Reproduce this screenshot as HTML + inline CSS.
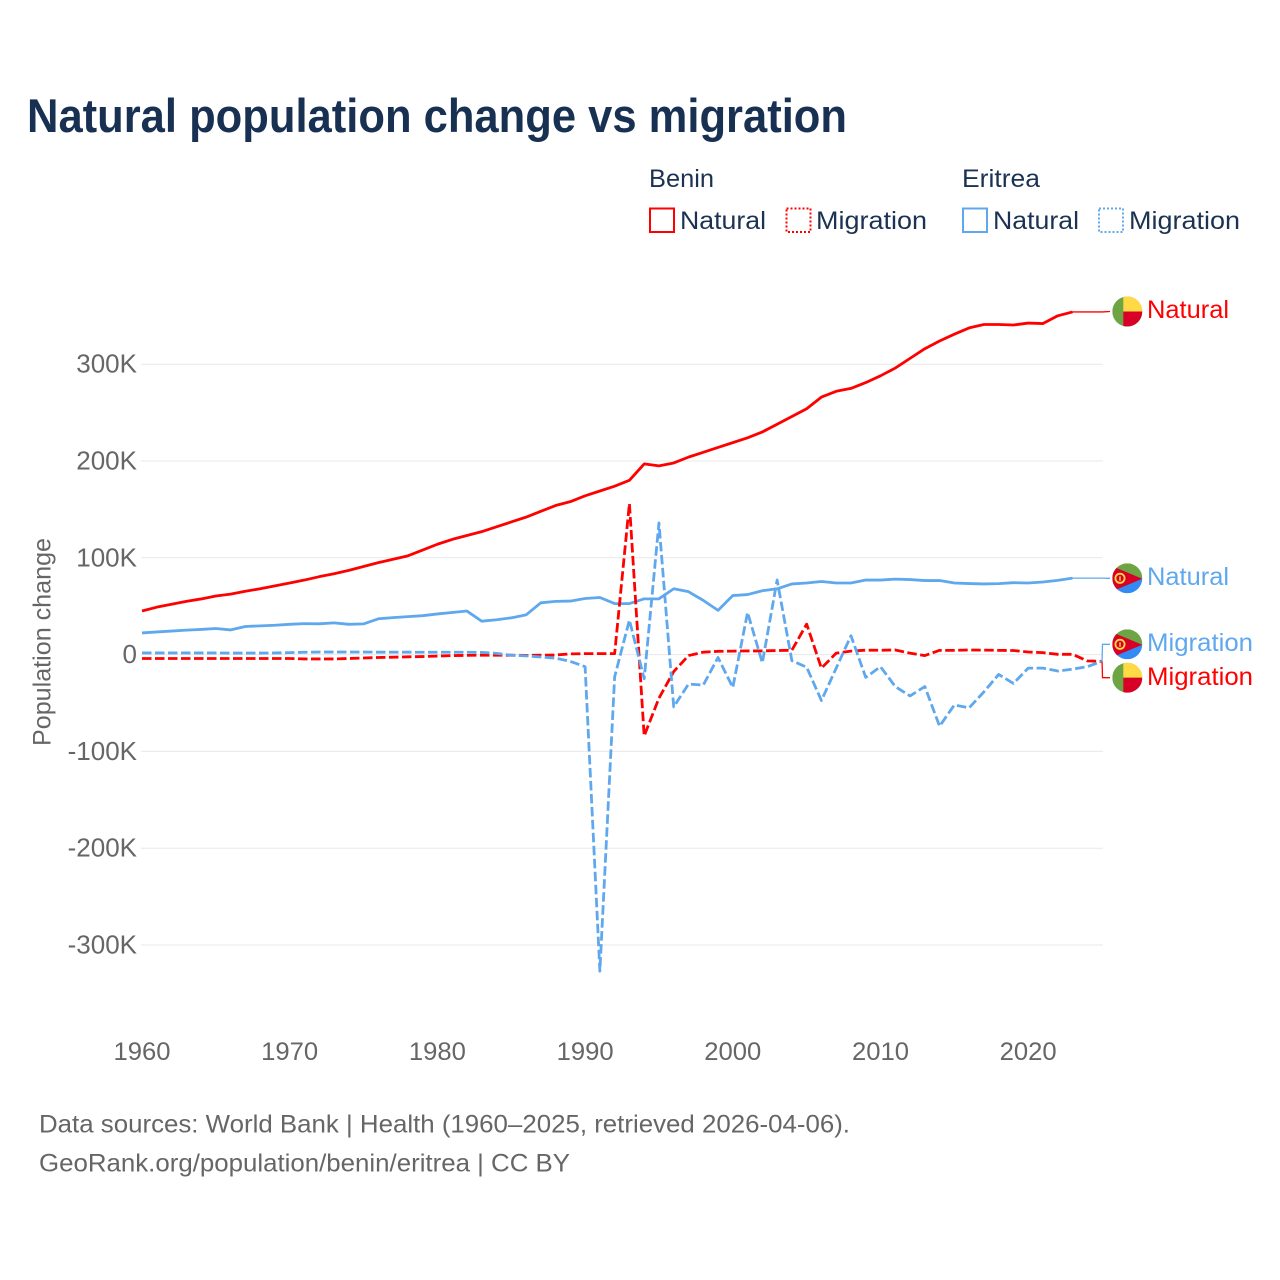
<!DOCTYPE html>
<html lang="en">
<head>
<meta charset="utf-8">
<title>Natural population change vs migration</title>
<style>
html,body{margin:0;padding:0;background:#fff;}
svg{display:block;font-family:"Liberation Sans",sans-serif;}
</style>
</head>
<body>
<svg id="chart" xmlns="http://www.w3.org/2000/svg" width="1280" height="1280" viewBox="0 0 1280 1280">
  <defs>
    <clipPath id="flag-clip"><circle cx="0" cy="0" r="15"/></clipPath>
    <g id="flag-benin">
      <g clip-path="url(#flag-clip)">
        <rect x="-15" y="-15" width="30" height="30" fill="#6DA544"/>
        <rect x="-4" y="-15" width="19" height="15" fill="#FFDA44"/>
        <rect x="-4" y="0" width="19" height="15" fill="#D80027"/>
      </g>
    </g>
    <g id="flag-eritrea">
      <g clip-path="url(#flag-clip)">
        <rect x="-15" y="-15" width="30" height="15" fill="#6DA544"/>
        <rect x="-15" y="0" width="30" height="15" fill="#338AF3"/>
        <polygon points="-15,-12 15,0.5 -15,13" fill="#D80027"/>
        <circle cx="-7.3" cy="0" r="4.6" fill="none" stroke="#FFDA44" stroke-width="1.8"/>
        <rect x="-8" y="-2" width="1.4" height="4.5" fill="#FFDA44"/>
      </g>
    </g>
  </defs>

  <text x="27" y="132" font-size="47" font-weight="700" fill="#183153" textLength="820" lengthAdjust="spacingAndGlyphs">Natural population change vs migration</text>

  <g font-size="25" fill="#1b3252">
    <text x="649" y="187" textLength="65" lengthAdjust="spacingAndGlyphs">Benin</text>
    <text x="962" y="187" textLength="78" lengthAdjust="spacingAndGlyphs">Eritrea</text>
    <g>
      <rect x="650" y="208.500" width="24" height="23.500" fill="none" stroke="#ff0000" stroke-width="2"/>
      <text x="680" y="229" textLength="86" lengthAdjust="spacingAndGlyphs">Natural</text>
    </g>
    <g>
      <rect x="786.500" y="208.500" width="24" height="23.500" fill="none" stroke="#ff0000" stroke-width="2" stroke-dasharray="2 2"/>
      <text x="816" y="229" textLength="111" lengthAdjust="spacingAndGlyphs">Migration</text>
    </g>
    <g>
      <rect x="963" y="208.500" width="24" height="23.500" fill="none" stroke="#5fa8ee" stroke-width="2"/>
      <text x="993" y="229" textLength="86" lengthAdjust="spacingAndGlyphs">Natural</text>
    </g>
    <g>
      <rect x="1099" y="208.500" width="24" height="23.500" fill="none" stroke="#5fa8ee" stroke-width="2" stroke-dasharray="2 2"/>
      <text x="1129" y="229" textLength="111" lengthAdjust="spacingAndGlyphs">Migration</text>
    </g>
  </g>

  <text transform="translate(50.500 746) rotate(-90)" font-size="25" fill="#666666" textLength="208" lengthAdjust="spacingAndGlyphs">Population change</text>

  <g id="grid"></g>
  <g id="y-ticks"></g>
  <g id="x-ticks"></g>
  <g id="series"></g>
  <g id="connectors"></g>

  <g>
    <use href="#flag-benin" x="1127.300" y="311.500"/>
    <text x="1147" y="318" font-size="25" fill="#ff0000" textLength="82" lengthAdjust="spacingAndGlyphs">Natural</text>
  </g>
  <g>
    <use href="#flag-eritrea" x="1127.300" y="578.300"/>
    <text x="1147" y="585" font-size="25" fill="#5fa8ee" textLength="82" lengthAdjust="spacingAndGlyphs">Natural</text>
  </g>
  <g>
    <use href="#flag-eritrea" x="1127.300" y="644.300"/>
    <text x="1147" y="651" font-size="25" fill="#5fa8ee" textLength="106" lengthAdjust="spacingAndGlyphs">Migration</text>
  </g>
  <g>
    <use href="#flag-benin" x="1127.300" y="677.700"/>
    <text x="1147" y="685" font-size="25" fill="#ff0000" textLength="106" lengthAdjust="spacingAndGlyphs">Migration</text>
  </g>

  <g font-size="25" fill="#666666">
    <text x="39" y="1132.500" textLength="811" lengthAdjust="spacingAndGlyphs">Data sources: World Bank | Health (1960–2025, retrieved 2026-04-06).</text>
    <text x="39" y="1171.500" textLength="531" lengthAdjust="spacingAndGlyphs">GeoRank.org/population/benin/eritrea | CC BY</text>
  </g>
</svg>
<script>
const startYear = 1960;
const xTickYears = [1960, 1970, 1980, 1990, 2000, 2010, 2020];
const yTickValues = [300, 200, 100, 0, -100, -200, -300];
const yTickLabels = ['300K', '200K', '100K', '0', '-100K', '-200K', '-300K'];

const beninNatural = [45, 49, 52, 55, 57.5, 60.5, 62.5, 65.5, 68, 71, 74, 77, 80.5, 83.5, 87, 91, 95, 98.5, 102, 108, 114, 119, 123, 127, 132, 137, 142, 148, 154, 158, 164, 169, 174, 180, 197, 195, 198, 204, 209, 214, 219, 224, 230, 238, 246, 254, 266, 272, 275, 281, 288, 296, 306, 316, 324, 331, 337.5, 341, 341, 340.5, 342.5, 342, 350, 354];
const eritreaNatural = [22.4, 23.4, 24.3, 25.3, 26, 27, 25.5, 29, 29.7, 30.3, 31.3, 32, 31.8, 32.8, 31.3, 31.7, 37, 38.2, 39.2, 40.2, 42, 43.5, 45, 34.5, 36, 38, 41, 53.5, 55, 55.3, 58, 59, 52.7, 52.7, 57.6, 57.6, 68, 65, 56, 45.7, 61, 62, 66, 68, 73, 74, 75.5, 74, 74, 77, 77, 78, 77.5, 76.5, 76.5, 74, 73.4, 73, 73.3, 74.3, 74, 75, 76.7, 79];
const beninMigration = [-4, -4, -4, -4, -4, -4, -4, -4, -4, -4, -4, -4.5, -4.5, -4.5, -4, -3.5, -3, -2.7, -2.3, -2, -1.5, -1, -0.8, -0.6, -0.6, -0.6, -0.8, -0.6, -0.4, 0.7, 1, 1, 1, 156, -84, -45, -17.5, -1, 2.5, 3.4, 3.6, 3.8, 3.8, 4.2, 4.5, 31.5, -14, 1.5, 3.6, 4.6, 4.5, 4.8, 1.5, -1, 4.4, 4.4, 4.8, 4.6, 4.4, 4.2, 2.7, 2, 0.3, 0.3, -6.5, -7];
const eritreaMigration = [1.7, 1.7, 1.7, 1.7, 1.7, 1.7, 1.6, 1.6, 1.6, 1.7, 2, 2.4, 2.6, 2.6, 2.6, 2.6, 2.5, 2.5, 2.5, 2.4, 2.4, 2.4, 2.4, 2.3, 1.3, -0.7, -1.3, -2.5, -3.7, -7, -12.5, -327, -23, 35.7, -25, 136, -54, -30.5, -31.5, -3, -34, 43.5, -8.5, 77, -6.3, -13, -47.5, -14, 19.5, -23.5, -12.5, -33, -42.7, -33, -74, -52, -55, -38.5, -20.5, -29.8, -14, -14, -17, -15, -12.5, -7];

const SVG_NS = 'http://www.w3.org/2000/svg';
const RED = '#ff0000';
const BLUE = '#5fa8ee';

function xScale(year) {
  return 142 + (year - 1960) * 14.77;
}
function yScale(value) {
  return 654.6 - value * 0.968;
}
function linePath(values) {
  return values.map(function (v, i) {
    return (i ? 'L' : 'M') + xScale(startYear + i).toFixed(2) + ' ' + yScale(v).toFixed(2);
  }).join(' ');
}
function lastPoint(values) {
  const i = values.length - 1;
  return [xScale(startYear + i), yScale(values[i])];
}

const grid = document.getElementById('grid');
const yTicks = document.getElementById('y-ticks');
const xTicks = document.getElementById('x-ticks');
const seriesGroup = document.getElementById('series');
const connectors = document.getElementById('connectors');

yTickValues.forEach(function (v, i) {
  const line = document.createElementNS(SVG_NS, 'line');
  
  
  line.setAttribute('x1', 141);
  line.setAttribute('x2', 1103);
  line.setAttribute('y1', yScale(v));
  line.setAttribute('y2', yScale(v));
  line.setAttribute('stroke', '#e8e8e8');
  line.setAttribute('stroke-width', 1);
  grid.appendChild(line);

  const label = document.createElementNS(SVG_NS, 'text');
  
  
  label.setAttribute('x', 137);
  label.setAttribute('y', yScale(v) + 8.500);
  label.setAttribute('text-anchor', 'end');
  label.setAttribute('font-size', 26);
  label.setAttribute('fill', '#666666');
  label.textContent = yTickLabels[i];
  yTicks.appendChild(label);
});

xTickYears.forEach(function (year) {
  const label = document.createElementNS(SVG_NS, 'text');
  
  
  label.setAttribute('x', xScale(year));
  label.setAttribute('y', 1060);
  label.setAttribute('text-anchor', 'middle');
  label.setAttribute('font-size', 25);
  label.setAttribute('fill', '#666666');
  label.setAttribute('textLength', 57);
  label.setAttribute('lengthAdjust', 'spacingAndGlyphs');
  label.textContent = String(year);
  xTicks.appendChild(label);
});

function addSeries(name, values, color, dashed) {
  const path = document.createElementNS(SVG_NS, 'path');
  
  
  path.setAttribute('d', linePath(values));
  path.setAttribute('fill', 'none');
  path.setAttribute('stroke', color);
  path.setAttribute('stroke-width', 2.800);
  path.setAttribute('stroke-linejoin', 'round');
  if (dashed) {
    path.setAttribute('stroke-dasharray', '9.500 3.500');
  }
  seriesGroup.appendChild(path);
}
addSeries('line-benin-natural', beninNatural, RED, false);
addSeries('line-eritrea-natural', eritreaNatural, BLUE, false);
addSeries('line-benin-migration', beninMigration, RED, true);
addSeries('line-eritrea-migration', eritreaMigration, BLUE, true);

function addConnector(name, values, color, labelY) {
  const p = lastPoint(values);
  const path = document.createElementNS(SVG_NS, 'path');
  
  
  const elbowX = Math.max(p[0], 1102.500);
  path.setAttribute('d', 'M' + p[0] + ' ' + p[1] + ' L' + elbowX + ' ' + (p[0] > 1100 ? labelY : p[1]) + ' L1110 ' + labelY);
  path.setAttribute('fill', 'none');
  path.setAttribute('stroke', color);
  path.setAttribute('stroke-width', 1.300);
  connectors.appendChild(path);
}
addConnector('connector-benin-natural', beninNatural, RED, 311.500);
addConnector('connector-eritrea-natural', eritreaNatural, BLUE, 578.300);
addConnector('connector-eritrea-migration', eritreaMigration, BLUE, 644.300);
addConnector('connector-benin-migration', beninMigration, RED, 677.700);
</script>
</body>
</html>
